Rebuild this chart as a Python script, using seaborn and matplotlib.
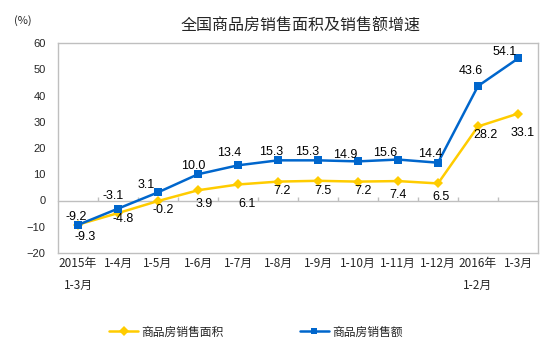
import matplotlib
matplotlib.use("Agg")
import matplotlib.pyplot as plt
import seaborn as sns
import numpy as np
import pandas as pd

# data
months = ["2015年\n1-3月", "1-4月", "1-5月", "1-6月", "1-7月", "1-8月",
          "1-9月", "1-10月", "1-11月", "1-12月", "2016年\n1-2月", "1-3月"]
area_growth = [-9.2, -4.8, -0.2, 3.9, 6.1, 7.2, 7.5, 7.2, 7.4, 6.5, 28.2, 33.1]
sales_growth = [-9.3, -3.1, 3.1, 10.0, 13.4, 15.3, 15.3, 14.9, 15.6, 14.4, 43.6, 54.1]
area_name = "商品房销售面积"
sales_name = "商品房销售额"

# label offsets in pixels (dx, dy up-positive)
area_off = [(-2, 8), (5, -6), (5, -9), (6, -14), (9, -20), (4, -9.5),
            (5, -10), (5, -9.5), (0, -14), (3, -14), (7, -8.5), (5, -19)]
sales_off = [(7, -12), (-5, 12.6), (-12, 7), (-5, 8), (-9, 12), (-7, 8),
             (-11, 8), (-13, 6), (-13, 7), (-8, 9), (-7, 15), (-13, 6)]

yellow = "#FFCC00"
blue = "#0066CC"
gray = "#BFBFBF"

sns.set_style("white")
plt.rcParams["font.family"] = ["Liberation Sans", "Noto Sans CJK SC", "DejaVu Sans"]

fig = plt.figure(figsize=(5.54, 3.53), dpi=100)
ax = fig.add_axes([58 / 554, 1 - 253 / 353, 480 / 554, 210 / 353])

x = np.arange(len(months))
df = pd.DataFrame({"x": np.concatenate([x, x]),
                   "value": area_growth + sales_growth,
                   "series": [area_name] * len(x) + [sales_name] * len(x)})

sns.lineplot(data=df, x="x", y="value", hue="series", style="series",
             palette={area_name: yellow, sales_name: blue},
             markers={area_name: "D", sales_name: "s"}, dashes=False,
             markersize=5.5, markeredgewidth=0, linewidth=1.8, ax=ax, legend=False)

# value labels
for xi, v, (dx, dy) in zip(x, area_growth, area_off):
    ax.annotate(f"{v:.1f}", (xi, v), xytext=(dx, dy), textcoords="offset pixels",
                ha="center", va="center", fontsize=9, color="black")
for xi, v, (dx, dy) in zip(x, sales_growth, sales_off):
    ax.annotate(f"{v:.1f}", (xi, v), xytext=(dx, dy), textcoords="offset pixels",
                ha="center", va="center", fontsize=9, color="black")

ax.set_xlim(-0.5, len(months) - 0.5)
ax.set_ylim(-20, 60)
ax.set_yticks(np.arange(-20, 61, 10))
ax.set_xticks(x)
ax.set_xticklabels(months, fontsize=8.5, linespacing=1.9,
                   family=["Noto Sans CJK SC"])
ax.tick_params(axis="x", length=0, pad=3)
ax.tick_params(axis="y", direction="in", length=4, color=gray, width=1,
               labelsize=8, pad=9)
ax.set_xlabel("")
ax.set_ylabel("")
for s in ax.spines.values():
    s.set_color(gray)
    s.set_linewidth(1)

# zero line with category boundary ticks
zero = ax.secondary_xaxis(20 / 80)
zero.set_xticks(x[:-1] + 0.5)
zero.set_xticklabels([])
zero.tick_params(direction="in", length=3, color=gray, width=1)
zero.spines["bottom"].set_color(gray)
zero.spines["bottom"].set_linewidth(1)

fig.text(301 / 554, 1 - 26 / 353, "全国商品房销售面积及销售额增速", ha="center", va="center",
         fontsize=11.5, family=["Noto Sans CJK SC"])
fig.text(23 / 554, 1 - 21 / 353, "(%)", ha="center", va="center", fontsize=8,
         family=["Noto Sans CJK SC"])

handles = [plt.Line2D([], [], color=yellow, marker="D", markersize=5, lw=1.8, markeredgewidth=0),
           plt.Line2D([], [], color=blue, marker="s", markersize=5, lw=1.8, markeredgewidth=0)]
fig.legend(handles, [area_name, sales_name], loc="center", ncol=2, frameon=False,
           bbox_to_anchor=(256 / 554, 1 - 332 / 353), handlelength=2.4,
           columnspacing=6.5, handletextpad=0.3,
           prop={"family": ["Noto Sans CJK SC"], "size": 8.5})

fig.savefig("out.png", dpi=100)
